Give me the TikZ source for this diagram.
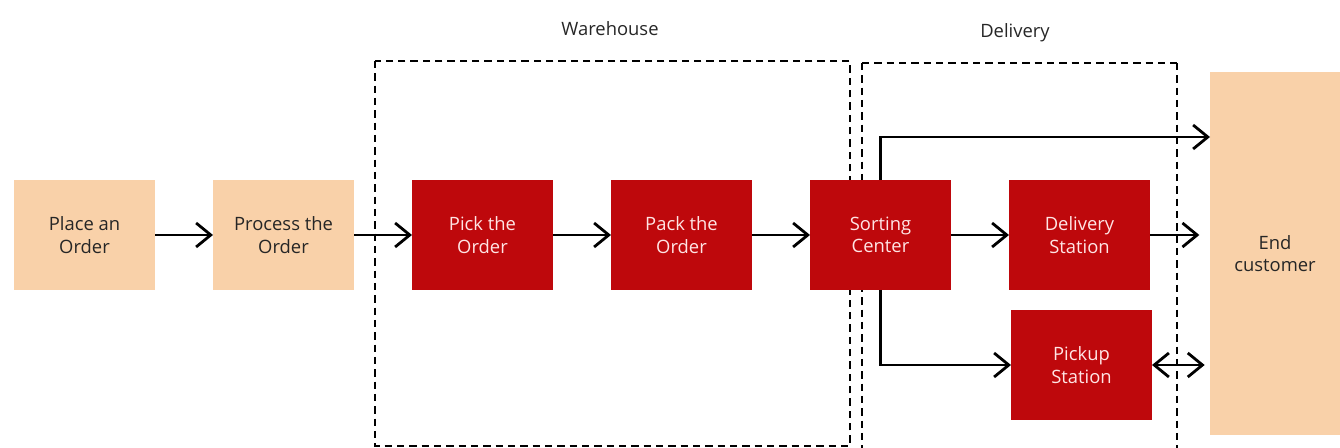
\documentclass[tikz,border=0pt]{standalone}
\usepackage{fontspec}
\setmainfont{Open Sans}
\usetikzlibrary{arrows.meta,positioning}

\definecolor{peach}{HTML}{F9D1A9}
\definecolor{hubred}{HTML}{BE080C}

\begin{document}
\begin{tikzpicture}[x=0.75pt,y=-0.75pt,>={Straight Barb[length=11pt,width=18pt]},line width=2.1pt,node distance=43.5pt,
	shopbox/.style={fill=peach,outer sep=0pt,minimum width=105.75pt,minimum height=82.5pt,align=center,text=black!85,font=\fontsize{13.8}{17}\selectfont},
	hubbox/.style={shopbox,fill=hubred,text=white!90!red},
	zone/.style={draw,line width=2.2pt,dash pattern=on 5.5pt off 3.75pt},
	zonelabel/.style={text=black!85,font=\fontsize{13.8}{17}\selectfont}]
	\useasboundingbox (0,0) rectangle (1340,448);

	\draw[zone] (375,61) rectangle (850,446);
	\draw[zone] (862,63) -- (1177,63) (862,63) -- (862,452) (1177,63) -- (1177,452);
	\node[zonelabel] (wlabel) at (610,29) {Warehouse};
	\node[zonelabel] (dlabel) at (1015,33) {Delivery};

	\node[shopbox]  (place) at (84.5,235)        {Place an\\Order};
	\node[shopbox]  (proc)  [right=of place]     {Process the\\Order};
	\node[hubbox]   (pick)  [right=of proc]      {Pick the\\Order};
	\node[hubbox]   (pack)  [right=of pick]      {Pack the\\Order};
	\node[hubbox]   (sort)  [right=of pack]      {Sorting\\Center};
	\node[hubbox]   (dstat) [right=of sort]      {Delivery\\Station};
	\node[hubbox]   (pstat) [below=15pt of dstat, xshift=1.5pt] {Pickup\\Station};
	\node[shopbox, minimum width=97.5pt, minimum height=272.25pt] (cust) at (1275,253.5) {End\\customer};

	\coordinate (ctop) at (cust.west |- 0,137);

	\draw[->] (place) -- (proc);
	\draw[->] (proc) -- (pick);
	\draw[->] (pick) -- (pack);
	\draw[->] (pack) -- (sort);
	\draw[->] (sort) -- (dstat);
	\draw[->, shorten >=8pt] (dstat) -- (dstat -| cust.west);
	\draw[->] (sort.north) |- (ctop);
	\draw[->] (sort.south) |- (pstat.west);
	\draw[<->, shorten >=4pt] (pstat.east) -- (pstat -| cust.west);
\end{tikzpicture}
\end{document}
